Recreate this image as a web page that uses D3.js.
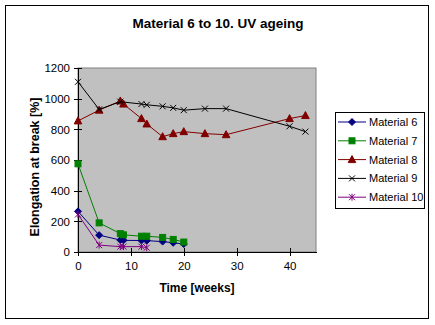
<!DOCTYPE html>
<html>
<head>
<meta charset="utf-8">
<script src="https://cdn.jsdelivr.net/npm/d3@7"></script>
<style>
  body { margin: 0; background: #fff; }
  svg { display: block; font-family: "Liberation Sans", Arial, sans-serif; }
</style>
</head>
<body>
<script>
const width = 435;
const height = 325;

// weeks of UV exposure and elongation at break [%] per material
const weeks6 = [0, 4, 8, 8.6, 12, 13, 16, 18, 20];
const values6 = [265, 110, 78, 76, 75, 74, 68, 60, 52];
const weeks7 = [0, 4, 8, 8.6, 12, 13, 16, 18, 20];
const values7 = [575, 190, 120, 112, 103, 103, 95, 82, 65];
const weeks8 = [0, 4, 8, 8.6, 12, 13, 16, 18, 20, 24, 28, 40, 43];
const values8 = [855, 925, 985, 965, 870, 835, 752, 772, 785, 772, 765, 870, 890];
const weeks9 = [0, 4, 8, 12, 13, 16, 18, 20, 24, 28, 40, 43];
const values9 = [1110, 930, 980, 965, 960, 950, 940, 925, 935, 935, 820, 785];
const weeks10 = [0, 4, 8, 8.6, 12, 13];
const values10 = [245, 45, 35, 35, 35, 28];

const xTicks = [0, 10, 20, 30, 40];
const yTicks = [0, 200, 400, 600, 800, 1000, 1200];

const series = [
  { name: "Material 6", weeks: weeks6, values: values6, color: "#000080", marker: "diamond" },
  { name: "Material 7", weeks: weeks7, values: values7, color: "#008000", marker: "square" },
  { name: "Material 8", weeks: weeks8, values: values8, color: "#800000", marker: "triangle" },
  { name: "Material 9", weeks: weeks9, values: values9, color: "#000000", marker: "cross" },
  { name: "Material 10", weeks: weeks10, values: values10, color: "#800080", marker: "star" },
];

const plot = { left: 78, top: 68, right: 316, bottom: 252 };

const svg = d3
  .select("body")
  .append("svg")
  .attr("width", width)
  .attr("height", height);

// outer chart frame
svg
  .append("rect")
  .attr("x", 5.5)
  .attr("y", 5.5)
  .attr("width", 423)
  .attr("height", 313)
  .attr("fill", "#fff")
  .attr("stroke", "#000")
  .attr("stroke-width", 1);

const xScale = d3.scaleLinear().domain([0, 45]).range([plot.left, plot.right]);
const yScale = d3.scaleLinear().domain([0, 1200]).range([plot.bottom, plot.top]);

svg
  .append("rect")
  .attr("x", plot.left)
  .attr("y", plot.top)
  .attr("width", plot.right - plot.left)
  .attr("height", plot.bottom - plot.top)
  .attr("fill", "#c0c0c0")
  .attr("stroke", "#808080")
  .attr("stroke-width", 1);

const xAxis = d3
  .axisBottom(xScale)
  .tickValues(xTicks)
  .tickFormat(d3.format("d"))
  .tickSize(4)
  .tickSizeOuter(0);
const yAxis = d3
  .axisLeft(yScale)
  .tickValues(yTicks)
  .tickFormat(d3.format("d"))
  .tickSize(4)
  .tickSizeOuter(0);

const gx = svg
  .append("g")
  .attr("transform", `translate(0, ${plot.bottom})`)
  .call(xAxis);
gx.selectAll(".tick line").attr("y1", -4);
gx.selectAll(".tick text").attr("dy", "1.05em").attr("y", 6);

const gy = svg
  .append("g")
  .attr("transform", `translate(${plot.left}, 0)`)
  .call(yAxis);
gy.selectAll(".tick line").attr("x1", 4);
gy.selectAll(".tick text").attr("x", -8);

[gx, gy].forEach((g) => {
  g.selectAll("text").style("font-size", "11.5px").attr("fill", "#000");
  g.selectAll("line, path").attr("stroke", "#000").style("shape-rendering", "crispEdges");
  g.style("font-family", "Liberation Sans, Arial, sans-serif");
});

const drawMarker = (g, type, color) => {
  if (type === "diamond") {
    g.append("path").attr("d", "M0,-3.5L3.5,0L0,3.5L-3.5,0Z").attr("fill", color).attr("stroke", color);
  } else if (type === "square") {
    g.append("rect").attr("x", -3).attr("y", -3).attr("width", 6).attr("height", 6).attr("fill", color).attr("stroke", color);
  } else if (type === "triangle") {
    g.append("path").attr("d", "M0,-4L3.8,3L-3.8,3Z").attr("fill", color).attr("stroke", color);
  } else if (type === "cross") {
    g.append("path").attr("d", "M-3,-3L3,3M3,-3L-3,3").attr("stroke", color).attr("fill", "none");
  } else if (type === "star") {
    g.append("path").attr("d", "M-3,-3L3,3M3,-3L-3,3M0,-3.5L0,3.5").attr("stroke", color).attr("fill", "none");
  }
};

const line = d3
  .line()
  .x((d) => xScale(d[0]))
  .y((d) => yScale(d[1]));

series.forEach((s) => {
  const pts = s.weeks.map((w, i) => [w, s.values[i]]);
  svg
    .append("path")
    .datum(pts)
    .attr("d", line)
    .attr("fill", "none")
    .attr("stroke", s.color)
    .attr("stroke-width", 1);
  pts.forEach((p) => {
    const g = svg
      .append("g")
      .attr("transform", `translate(${xScale(p[0])}, ${yScale(p[1])})`);
    drawMarker(g, s.marker, s.color);
  });
});

svg
  .append("text")
  .text("Material 6 to 10. UV ageing")
  .attr("x", 218)
  .attr("y", 28)
  .attr("text-anchor", "middle")
  .style("font-size", "13.5px")
  .style("font-weight", "bold");

svg
  .append("text")
  .text("Time [weeks]")
  .attr("x", 197)
  .attr("y", 292)
  .attr("text-anchor", "middle")
  .style("font-size", "12px")
  .style("font-weight", "bold");

svg
  .append("text")
  .text("Elongation at break [%]")
  .attr("transform", "translate(39, 167) rotate(-90)")
  .attr("text-anchor", "middle")
  .style("font-size", "12.5px")
  .style("font-weight", "bold");

// legend
const legend = svg.append("g");
legend
  .append("rect")
  .attr("x", 335.5)
  .attr("y", 112.5)
  .attr("width", 89)
  .attr("height", 96)
  .attr("fill", "#fff")
  .attr("stroke", "#000");

series.forEach((s, i) => {
  const y = 122 + i * 18.8;
  const row = legend.append("g");
  row
    .append("line")
    .attr("x1", 338)
    .attr("x2", 366)
    .attr("y1", y)
    .attr("y2", y)
    .attr("stroke", s.color);
  drawMarker(row.append("g").attr("transform", `translate(352, ${y})`), s.marker, s.color);
  row
    .append("text")
    .text(s.name)
    .attr("x", 369)
    .attr("y", y + 4)
    .style("font-size", "11px");
});
</script>
</body>
</html>
